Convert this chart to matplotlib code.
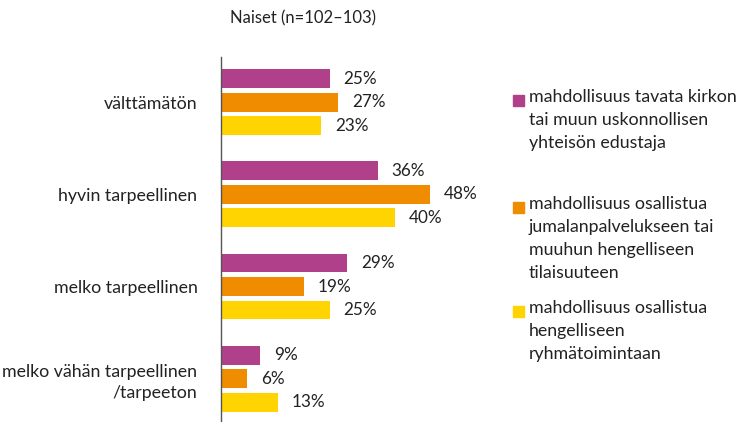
import matplotlib.pyplot as plt
from matplotlib.patches import Rectangle

plt.rcParams['font.family'] = ['Lato', 'DejaVu Sans']

# Data
categories = ['välttämätön', 'hyvin tarpeellinen', 'melko tarpeellinen',
              'melko vähän tarpeellinen\n/tarpeeton']
series_names = ['mahdollisuus tavata kirkon\ntai muun uskonnollisen\nyhteisön edustaja',
                'mahdollisuus osallistua\njumalanpalvelukseen tai\nmuuhun hengelliseen\ntilaisuuteen',
                'mahdollisuus osallistua\nhengelliseen\nryhmätoimintaan']
edustaja = [25, 36, 29, 9]
jumalanpalvelus = [27, 48, 19, 6]
ryhma = [23, 40, 25, 13]
title = 'Naiset (n=102–103)'

colors = ['#b0408a', '#f08c00', '#ffd400']
series = [edustaja, jumalanpalvelus, ryhma]

W, H = 741, 422
fig = plt.figure(figsize=(W / 100, H / 100), dpi=100)
ax = fig.add_axes([221 / W, 0, 279 / W, (422 - 57) / H])

offsets = [-0.255, 0, 0.255]
for vals, off, col in zip(series, offsets, colors):
    ys = [i + off for i in range(len(categories))]
    ax.barh(ys, vals, height=0.205, color=col)
    for y, v in zip(ys, vals):
        ax.annotate(f'{v}%', (v, y), xytext=(10, 0), textcoords='offset points',
                    va='center', ha='left', fontsize=12.3, color='#222222')

ax.set_xlim(0, 279 / 4.35)
ax.set_ylim(3.47, -0.49)
ax.set_yticks(range(len(categories)))
ax.set_yticklabels(categories, fontsize=12.8, color='#222222', ha='right',
                   linespacing=1.4)
ax.tick_params(axis='y', length=0, pad=17)
ax.set_xticks([])
for s in ['top', 'right', 'bottom']:
    ax.spines[s].set_visible(False)
ax.spines['left'].set_color('#555555')
ax.spines['left'].set_linewidth(1)

fig.text(230 / W, 1 - 18 / H, title, fontsize=12, color='#222222',
         ha='left', va='center')

# legend drawn by hand
leg_tops = [100, 207, 311]
for name, col, yt in zip(series_names, colors, leg_tops):
    fig.patches.append(Rectangle((513 / W, 1 - (yt + 6) / H), 11 / W, 11 / H,
                                 transform=fig.transFigure, color=col))
    fig.text(529 / W, 1 - (yt - 11) / H, name, fontsize=12.8, color='#222222',
             ha='left', va='top', linespacing=1.55)

fig.savefig('out.png', dpi=100)
